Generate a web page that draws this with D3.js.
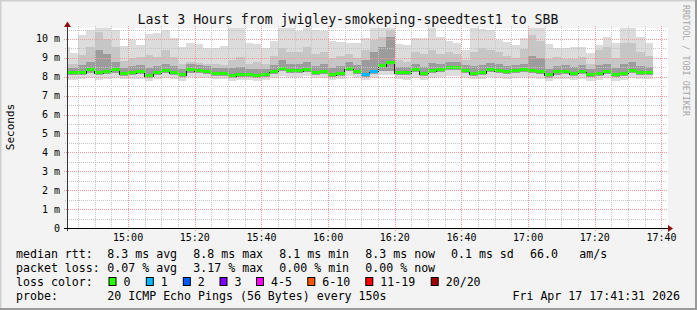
<!DOCTYPE html>
<html>
<head>
<meta charset="utf-8">
<script src="https://cdn.jsdelivr.net/npm/d3@7"></script>
<style>
  body { margin: 0; background: #fff; }
  svg text { font-family: "DejaVu Sans Mono", monospace; fill: #000; }
</style>
</head>
<body>
<svg id="chart" width="697" height="310"></svg>
<script>
// one value per 150 s step, starting 14:40:00
const median = [8.24, 8.24, 8.27, 8.41, 8.24, 8.32, 8.41, 8.22, 8.27, 8.32, 8.10, 8.27, 8.38, 8.27, 8.15, 8.41, 8.34, 8.31,
  8.22, 8.22, 8.12, 8.15, 8.15, 8.11, 8.15, 8.31, 8.48, 8.38, 8.38, 8.43, 8.27, 8.32, 8.16, 8.22, 8.48, 8.32,
  8.16, 8.31, 8.64, 8.80, 8.25, 8.25, 8.41, 8.20, 8.34, 8.41, 8.53, 8.53, 8.36, 8.22, 8.27, 8.43, 8.36, 8.30,
  8.38, 8.43, 8.38, 8.30, 8.13, 8.29, 8.32, 8.22, 8.32, 8.15, 8.22, 8.32, 8.15, 8.22, 8.38, 8.25, 8.25];
const lost = [0, 0, 0, 0, 0, 0, 0, 0, 0, 0, 0, 0, 0, 0, 0, 0, 0, 0,
  0, 0, 0, 0, 0, 0, 0, 0, 0, 0, 0, 0, 0, 0, 0, 0, 0, 0,
  1, 1, 0, 0, 0, 0, 0, 0, 0, 0, 0, 0, 0, 0, 0, 0, 0, 0,
  0, 0, 0, 0, 0, 0, 0, 0, 0, 0, 0, 0, 0, 0, 0, 0, 0];
const smokeMax = [9.55, 9.26, 10.19, 10.5, 10.58, 10.58, 10.5, 9.61, 9.93, 9.67, 10.25, 10.32, 10.5, 10.05, 9.58, 9.8, 9.74, 9.52,
  9.5, 9.65, 10.58, 10.58, 9.8, 9.72, 9.5, 9.9, 10.58, 10.58, 10.4, 10.58, 10.5, 10.4, 9.9, 9.86, 9.8, 9.77,
  10.05, 10.58, 10.58, 10.58, 9.75, 9.67, 10.05, 10.05, 10.58, 10.1, 9.88, 9.8, 9.4, 10.58, 10.55, 10.45, 9.95, 9.86,
  9.68, 10.05, 10.58, 10.58, 9.75, 9.52, 9.52, 9.6, 9.6, 9.27, 9.7, 10.1, 9.8, 10.58, 10.58, 10.1, 9.8];
const smokeMid = [8.69, 8.69, 9.14, 9.58, 10.37, 10.0, 9.58, 8.85, 9.0, 9.05, 9.14, 9.05, 9.4, 9.05, 8.69, 8.8, 8.75, 8.69,
  8.7, 8.6, 8.9, 9.05, 8.7, 8.8, 8.7, 9.1, 9.5, 9.3, 9.3, 9.6, 9.2, 9.3, 9.0, 9.1, 9.2, 9.0,
  9.4, 9.93, 10.1, 10.5, 8.9, 8.8, 9.3, 9.2, 9.4, 9.2, 9.3, 9.2, 8.9, 9.3, 9.5, 9.4, 9.3, 9.1,
  9.0, 9.49, 10.2, 9.9, 8.96, 9.05, 8.96, 8.93, 9.05, 8.7, 9.4, 9.6, 9.0, 9.8, 9.8, 9.3, 9.1];
const smokeDark = [8.45, 8.45, 8.6, 8.8, 9.4, 9.2, 8.8, 8.45, 8.55, 8.6, 8.45, 8.55, 8.7, 8.55, 8.4, 8.65, 8.6, 8.55,
  8.45, 8.45, 8.45, 8.5, 8.4, 8.4, 8.4, 8.6, 8.9, 8.7, 8.7, 8.8, 8.55, 8.65, 8.45, 8.55, 8.8, 8.6,
  8.9, 9.3, 9.6, 10.1, 8.5, 8.5, 8.7, 8.5, 8.75, 8.7, 8.8, 8.8, 8.6, 8.55, 8.6, 8.75, 8.65, 8.55,
  8.6, 8.7, 9.1, 9.0, 8.4, 8.55, 8.6, 8.5, 8.6, 8.4, 8.6, 8.7, 8.45, 8.7, 8.8, 8.55, 8.5];
const smokeLow = [8.08, 8.08, 8.1, 8.22, 8.08, 8.15, 8.22, 8.05, 8.1, 8.15, 7.95, 8.1, 8.2, 8.1, 7.98, 8.22, 8.18, 8.15,
  8.05, 8.05, 7.95, 8.0, 8.0, 7.95, 8.0, 8.15, 8.3, 8.22, 8.22, 8.27, 8.1, 8.15, 8.0, 8.05, 8.3, 8.15,
  8.0, 8.15, 8.3, 8.3, 8.08, 8.08, 8.25, 8.03, 8.18, 8.25, 8.35, 8.35, 8.2, 8.05, 8.1, 8.27, 8.2, 8.13,
  8.22, 8.27, 8.22, 8.13, 7.95, 8.12, 8.15, 8.05, 8.15, 7.98, 8.05, 8.15, 7.98, 8.05, 8.2, 8.08, 8.08];
const smokeMin = [7.85, 7.85, 7.9, 7.95, 7.85, 7.9, 7.95, 7.9, 7.88, 7.9, 7.75, 7.9, 7.95, 7.9, 7.8, 8.0, 7.95, 7.95,
  7.9, 7.9, 7.8, 7.85, 7.85, 7.75, 7.85, 7.95, 8.05, 8.0, 8.0, 8.05, 7.95, 7.95, 7.85, 7.9, 8.05, 7.95,
  7.85, 7.95, 8.1, 8.1, 7.9, 7.85, 7.95, 7.85, 7.95, 8.0, 8.05, 8.05, 7.95, 7.9, 7.9, 8.0, 7.95, 7.9,
  7.95, 8.0, 7.95, 7.9, 7.75, 7.9, 7.9, 7.85, 7.9, 7.8, 7.85, 7.95, 7.8, 7.85, 7.95, 7.9, 7.9];

const yTickValues = [0, 1, 2, 3, 4, 5, 6, 7, 8, 9, 10];
const yTickLabels = ["0", "1 m", "2 m", "3 m", "4 m", "5 m", "6 m", "7 m", "8 m", "9 m", "10 m"];

const lossLabels = ["0", "1", "2", "3", "4-5", "6-10", "11-19", "20/20"];
const lossColors = ["#26ff00", "#00b8ff", "#0059ff", "#7e00ff", "#ff00ff", "#ff5500", "#ff0000", "#a00000"];

const statsRtt = ["8.3 ms avg", "8.8 ms max", "8.1 ms min", "8.3 ms now", "0.1 ms sd", "66.0", "am/s"];
const statsLoss = ["0.07 % avg", "3.17 % max", "0.00 % min", "0.00 % now"];

const title = "Last 3 Hours from jwigley-smokeping-speedtest1 to SBB";
const probeText = "20 ICMP Echo Pings (56 Bytes) every 150s";
const stampText = "Fri Apr 17 17:41:31 2026";

const firstStep = new Date(2026, 3, 17, 14, 40, 0);
const stepMs = 150 * 1000;

const svg = d3.select("#chart");
const W = 697, H = 310;
const plotLeft = 67, plotRight = 667, plotTop = 28, plotBottom = 228;

// background and 3d frame
svg.append("rect").attr("width", W).attr("height", H).attr("fill", "#f3f3f3");
svg.append("path").attr("d", `M0.5,${H} V0.5 H${W}`).attr("fill", "none").attr("stroke", "#cfcfcf").attr("stroke-width", 2);
svg.append("path").attr("d", `M0,${H - 1} H${W - 1} V0`).attr("fill", "none").attr("stroke", "#9a9a9a").attr("stroke-width", 2);

const x = d3.scaleTime()
  .domain([new Date(2026, 3, 17, 14, 41, 40), new Date(2026, 3, 17, 17, 41, 40)])
  .range([plotLeft, plotRight]);
const y = d3.scaleLinear().domain([0, 10.58]).range([plotBottom, plotTop]);

svg.append("rect").attr("x", plotLeft).attr("y", plotTop).attr("width", plotRight - plotLeft + 1)
  .attr("height", plotBottom - plotTop).attr("fill", "#fff");

svg.append("clipPath").attr("id", "plotClip")
  .append("rect").attr("x", plotLeft).attr("y", plotTop).attr("width", plotRight - plotLeft).attr("height", plotBottom - plotTop);

const steps = median.map((m, i) => ({
  t0: new Date(firstStep.getTime() + i * stepMs),
  t1: new Date(firstStep.getTime() + (i + 1) * stepMs),
  median: m, lost: lost[i],
  max: smokeMax[i], mid: smokeMid[i], dark: smokeDark[i], low: smokeLow[i], min: smokeMin[i]
}));

const plot = svg.append("g").attr("clip-path", "url(#plotClip)").attr("shape-rendering", "crispEdges");

// smoke bands, outer first
const bands = [
  { lo: "min", hi: "max", color: "#dcdcdc" },
  { lo: "low", hi: "mid", color: "#c6c6c6" },
  { lo: "low", hi: "dark", color: "#9c9c9c" }
];
bands.forEach(b => {
  plot.append("g").selectAll("rect").data(steps).join("rect")
    .attr("x", d => x(d.t0))
    .attr("width", d => x(d.t1) - x(d.t0))
    .attr("y", d => y(d[b.hi]))
    .attr("height", d => y(d[b.lo]) - y(d[b.hi]))
    .attr("fill", b.color);
});

// grid
const minorX = d3.timeMinute.every(5).range(x.domain()[0], x.domain()[1]).filter(t => t.getMinutes() % 20 !== 0);
const majorX = d3.timeMinute.every(20).range(x.domain()[0], x.domain()[1]);
const minorY = d3.range(0.5, 10.6, 1);

const grid = svg.append("g").attr("shape-rendering", "crispEdges");
grid.selectAll(".mx").data(minorX).join("line")
  .attr("x1", d => Math.round(x(d)) + 0.5).attr("x2", d => Math.round(x(d)) + 0.5)
  .attr("y1", plotTop - 2).attr("y2", plotBottom + 2)
  .attr("stroke", "#c4c4c4").attr("stroke-dasharray", "1,1");
grid.selectAll(".my").data(minorY).join("line")
  .attr("x1", plotLeft - 2).attr("x2", plotRight)
  .attr("y1", d => Math.round(y(d)) + 0.5).attr("y2", d => Math.round(y(d)) + 0.5)
  .attr("stroke", "#c4c4c4").attr("stroke-dasharray", "1,1");
grid.selectAll(".Mx").data(majorX).join("line")
  .attr("x1", d => Math.round(x(d)) + 0.5).attr("x2", d => Math.round(x(d)) + 0.5)
  .attr("y1", plotTop - 2).attr("y2", plotBottom + 3)
  .attr("stroke", "#f29a9a").attr("stroke-dasharray", "1,1");
grid.selectAll(".My").data(yTickValues.slice(1)).join("line")
  .attr("x1", plotLeft - 3).attr("x2", plotRight)
  .attr("y1", d => Math.round(y(d)) + 0.5).attr("y2", d => Math.round(y(d)) + 0.5)
  .attr("stroke", "#f29a9a").attr("stroke-dasharray", "1,1");

// median: thin dark step line, then loss-coloured segments
const medLine = d3.line().curve(d3.curveStepAfter).x(d => x(d[0])).y(d => y(d[1]));
const medPts = steps.map(d => [d.t0, d.median]).concat([[steps[steps.length - 1].t1, steps[steps.length - 1].median]]);
plot.append("path").attr("d", medLine(medPts)).attr("fill", "none").attr("stroke", "#202020").attr("stroke-width", 1)
  .attr("transform", "translate(0,1.5)");

const lossIndex = n => n === 0 ? 0 : n === 1 ? 1 : n === 2 ? 2 : n === 3 ? 3 : n <= 5 ? 4 : n <= 10 ? 5 : n < 20 ? 6 : 7;
plot.append("g").selectAll("line").data(steps).join("line")
  .attr("x1", d => x(d.t0)).attr("x2", d => x(d.t1))
  .attr("y1", d => Math.round(y(d.median))).attr("y2", d => Math.round(y(d.median)))
  .attr("stroke", d => lossColors[lossIndex(d.lost)]).attr("stroke-width", 3);

// axes
svg.append("line").attr("x1", plotLeft + 0.5).attr("x2", plotLeft + 0.5).attr("y1", plotBottom + 3).attr("y2", plotTop - 2)
  .attr("stroke", "#333");
svg.append("line").attr("x1", plotLeft - 3).attr("x2", plotRight + 1).attr("y1", plotBottom + 0.5).attr("y2", plotBottom + 0.5)
  .attr("stroke", "#000");
svg.append("path").attr("d", `M${plotLeft - 3},${plotTop - 1} L${plotLeft + 0.5},${plotTop - 6.5} L${plotLeft + 4},${plotTop - 1} Z`)
  .attr("fill", "#8b1010");
svg.append("path").attr("d", `M${plotRight + 1},${plotBottom - 3} L${plotRight + 6},${plotBottom + 0.5} L${plotRight + 1},${plotBottom + 4} Z`)
  .attr("fill", "#8b1010");

svg.append("g").selectAll("text").data(yTickValues).join("text")
  .attr("x", 60).attr("y", d => y(d) + 3.5)
  .attr("text-anchor", "end").attr("font-size", "10px")
  .text((d, i) => yTickLabels[i]);

svg.append("g").selectAll("text").data(majorX).join("text")
  .attr("x", d => x(d)).attr("y", 241)
  .attr("text-anchor", "middle").attr("font-size", "10px")
  .text(d => d3.timeFormat("%H:%M")(d));

// titles
svg.append("text").attr("x", 348).attr("y", 24).attr("text-anchor", "middle")
  .attr("font-size", "13.2px").style("fill", "#111").text(title);
svg.append("text").attr("transform", "translate(14,127) rotate(-90)").attr("text-anchor", "middle")
  .attr("font-size", "11px").text("Seconds");
svg.append("text").attr("transform", "translate(683,5) rotate(90)").attr("text-anchor", "start")
  .attr("font-size", "8.4px").style("fill", "#a8a8a8").text("RRDTOOL / TOBI OETIKER");

// legend
const fs = "11.6px";
const colX = [107.3, 193.3, 279.3, 365.3, 451, 530, 579.3];
const rows = [258, 272, 286, 300];
const leg = svg.append("g").attr("font-size", fs);
leg.append("text").attr("x", 16).attr("y", rows[0]).text("median rtt:");
statsRtt.forEach((s, i) => leg.append("text").attr("x", colX[i]).attr("y", rows[0]).text(s));
leg.append("text").attr("x", 16).attr("y", rows[1]).text("packet loss:");
statsLoss.forEach((s, i) => leg.append("text").attr("x", colX[i]).attr("y", rows[1]).text(s));
leg.append("text").attr("x", 16).attr("y", rows[2]).text("loss color:");
const swX = [108.5, 145.8, 182.8, 219.5, 256, 307.3, 365.3, 430.7];
lossLabels.forEach((l, i) => {
  leg.append("rect").attr("x", swX[i] + 0.5).attr("y", rows[2] - 8.5).attr("width", 7).attr("height", 8)
    .attr("fill", lossColors[i]).attr("stroke", "#000");
  leg.append("text").attr("x", swX[i] + 15).attr("y", rows[2]).text(l);
});
leg.append("text").attr("x", 16).attr("y", rows[3]).text("probe:");
leg.append("text").attr("x", colX[0]).attr("y", rows[3]).text(probeText);
leg.append("text").attr("x", 680).attr("y", rows[3]).attr("text-anchor", "end").text(stampText);
</script>
</body>
</html>
